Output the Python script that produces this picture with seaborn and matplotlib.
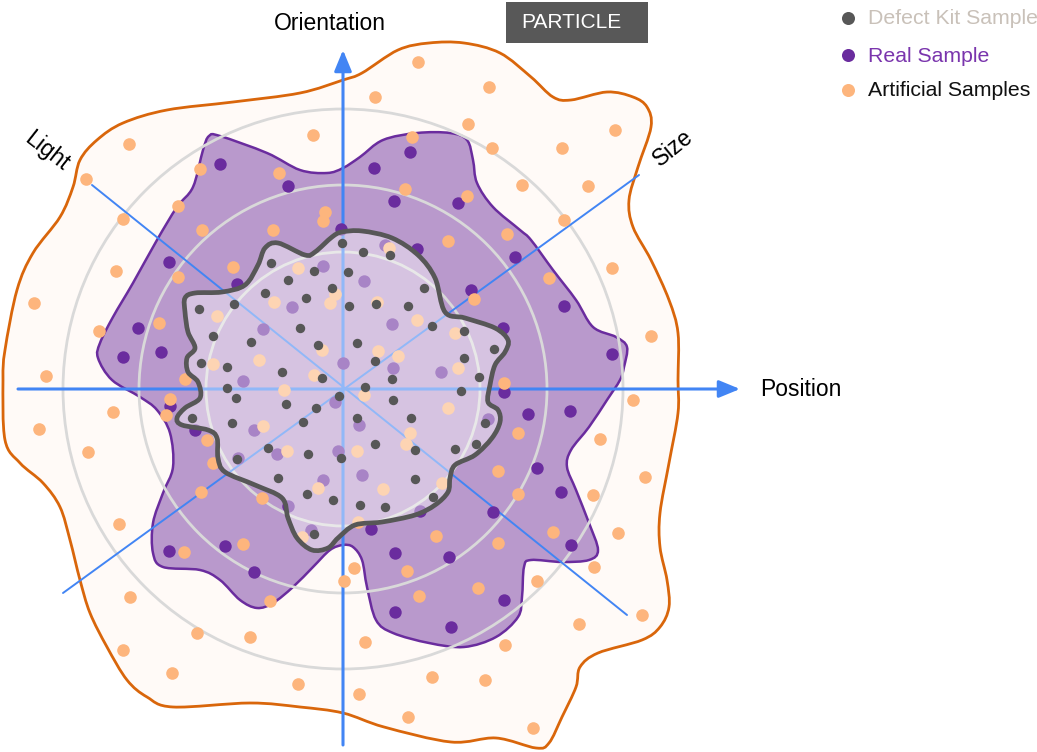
import numpy as np
import pandas as pd
import matplotlib
matplotlib.use("Agg")
import matplotlib.pyplot as plt
from matplotlib.path import Path
from matplotlib.patches import PathPatch, Circle, Rectangle
import seaborn as sns

# ---------------- data (pixel space) ----------------
center = (343, 389)
ring_radii = [137, 204, 280]

# outer (artificial samples) envelope
outer_x = [343, 362, 398, 429, 464, 500, 531, 553, 571, 607, 633, 647, 651, 638, 629, 633, 651, 669, 678, 678,
           678, 669, 660, 660, 667, 669, 660, 642, 598, 580, 576, 562, 549, 536, 496, 451, 384, 343, 300, 250,
           173, 147, 127, 107, 90, 80, 70, 60, 43, 20, 5, 3, 5, 17, 33, 60, 73, 80, 97, 123, 167, 233, 300]
outer_y = [80, 73, 50, 43, 43, 53, 77, 97, 100, 92, 97, 107, 127, 167, 200, 227, 260, 300, 333, 380,
           413, 463, 513, 547, 580, 607, 627, 640, 653, 667, 687, 717, 743, 748, 738, 742, 727, 713, 707, 703,
           707, 697, 680, 647, 613, 580, 540, 507, 483, 463, 440, 380, 350, 290, 253, 217, 187, 160, 140, 123, 110, 102, 93]

# real sample envelope
real_x = [343, 360, 383, 417, 450, 467, 473, 477, 493, 520, 531, 553, 576, 593, 616, 627, 624, 620, 607, 589,
          571, 567, 576, 589, 598, 589, 562, 531, 524, 522, 518, 496, 464, 429, 393, 376, 367, 362, 353, 343,
          330, 313, 293, 273, 257, 240, 220, 200, 163, 153, 153, 163, 173, 170, 157, 140, 112, 98, 100, 113,
          133, 157, 177, 193, 203, 209, 220, 267, 300, 327]
real_y = [168, 157, 140, 133, 133, 140, 160, 183, 207, 230, 240, 270, 300, 327, 337, 347, 367, 380, 400, 427,
          450, 467, 490, 523, 550, 560, 562, 560, 567, 597, 617, 637, 647, 643, 633, 620, 587, 560, 547, 545,
          550, 567, 587, 603, 608, 600, 580, 570, 567, 553, 523, 493, 467, 433, 410, 397, 380, 358, 343, 317,
          283, 240, 207, 187, 150, 136, 136, 153, 170, 173]

# defect kit envelope
kit_x = [342, 362, 392, 418, 435, 445, 465, 495, 508, 505, 495, 490, 488, 498, 500, 492, 475, 455, 450, 448,
         435, 415, 382, 355, 338, 328, 312, 297, 288, 282, 255, 225, 218, 217, 208, 182, 177, 185, 200, 198,
         188, 187, 195, 188, 185, 185, 195, 222, 245, 258, 265, 278, 305, 315, 332]
kit_y = [232, 231, 238, 255, 278, 312, 318, 328, 340, 352, 365, 385, 402, 410, 422, 438, 455, 465, 478, 492,
         505, 515, 522, 525, 538, 548, 550, 538, 518, 498, 485, 472, 458, 438, 430, 425, 418, 408, 398, 382,
         372, 358, 348, 332, 312, 298, 293, 292, 285, 265, 248, 243, 255, 252, 237]

defect_x = [342, 363, 390, 271, 314, 348, 288, 332, 424, 265, 306, 349, 376, 408, 199, 234, 300, 432, 464, 213,
            251, 318, 357, 494, 375, 464, 201, 227, 282, 322, 392, 479, 227, 365, 461, 236, 339, 393, 286, 316,
            192, 232, 303, 357, 411, 485, 268, 375, 415, 455, 476, 237, 308, 341, 278, 415, 307, 333, 360, 385,
            433, 314]
defect_y = [243, 252, 255, 263, 271, 272, 280, 288, 288, 293, 298, 306, 304, 306, 309, 304, 328, 326, 331, 336,
            342, 345, 343, 349, 361, 358, 363, 367, 372, 378, 379, 377, 388, 387, 391, 398, 396, 400, 404, 408,
            418, 423, 422, 418, 418, 423, 448, 444, 450, 449, 444, 459, 454, 458, 478, 479, 494, 500, 505, 507,
            497, 534]

real_pts_x = [220, 288, 374, 410, 394, 458, 417, 515, 341, 169, 237, 471, 138, 161, 123, 503, 564, 612, 504, 170,
              195, 169, 225, 254, 371, 395, 449, 493, 395, 451, 504, 528, 570, 537, 561, 571,
              323, 364, 292, 263, 392, 343, 393, 441, 243, 335, 359, 254, 488, 277, 338, 238, 362, 323, 420,
              288, 311, 385]
real_pts_y = [164, 186, 168, 152, 201, 203, 249, 257, 229, 262, 284, 290, 328, 352, 357, 328, 306, 354, 392, 406,
              430, 551, 546, 572, 529, 553, 557, 512, 612, 627, 600, 414, 411, 468, 492, 545,
              266, 281, 307, 329, 324, 363, 368, 372, 381, 402, 425, 430, 419, 454, 451, 458, 475, 480, 511,
              506, 530, 245]

art_x = [418, 489, 375, 468, 412, 492, 313, 129, 86, 200, 279, 405, 467, 522, 562, 615, 588, 178, 123, 325,
         323, 202, 273, 507, 448, 564, 116, 233, 178, 549, 612, 34, 159, 99, 474, 651, 46, 185,
         170, 166, 113, 39, 88, 207, 213, 201, 262, 119, 184, 243, 130, 270, 354, 344, 436, 498, 407, 419,
         478, 498, 518, 518, 197, 250, 123, 365, 505, 172, 298, 359, 432, 485, 408, 504, 633, 600, 645, 593,
         618, 553, 594, 537, 642, 579, 533,
         389, 298, 335, 330, 274, 377, 217, 417, 455, 322, 378, 398, 213, 259, 458, 314, 284, 364, 448, 263,
         410, 406, 287, 357, 318, 383, 442, 358, 302]
art_y = [62, 87, 97, 124, 137, 148, 135, 144, 179, 169, 173, 189, 196, 185, 148, 130, 186, 206, 219, 212,
         221, 230, 230, 234, 241, 220, 271, 267, 277, 278, 268, 303, 323, 331, 299, 336, 376, 379,
         399, 415, 412, 429, 452, 440, 463, 492, 498, 524, 552, 544, 597, 601, 568, 581, 536, 543, 571, 596,
         588, 471, 433, 494, 633, 637, 650, 642, 645, 673, 684, 694, 677, 680, 717, 383, 400, 439, 477, 495,
         533, 532, 567, 581, 615, 624, 728,
         248, 268, 294, 303, 302, 302, 316, 320, 333, 350, 351, 356, 364, 360, 368, 375, 390, 395, 408, 426,
         433, 444, 451, 451, 488, 489, 483, 522, 537]

axis_names = ["Orientation", "Position", "Light", "Size"]
legend_labels = ["Defect Kit Sample", "Real Sample", "Artificial Samples"]
legend_marker_colors = ["#575757", "#6a2c9e", "#fdb57d"]
legend_text_colors = ["#c9c1b9", "#7a35ad", "#111111"]
badge_text = "PARTICLE"

# ---------------- styling ----------------
BLUE = "#4285f4"
ORANGE = "#fdb57d"
PURPLE = "#6a2c9e"
DARK = "#575757"

sns.set_theme(style="white")
plt.rcParams["font.family"] = ["Liberation Sans", "DejaVu Sans"]


def smooth_closed(xs, ys):
    pts = np.column_stack([xs, ys]).astype(float)
    n = len(pts)
    verts = [pts[0]]
    codes = [Path.MOVETO]
    for i in range(n):
        p0 = pts[(i - 1) % n]
        p1 = pts[i]
        p2 = pts[(i + 1) % n]
        p3 = pts[(i + 2) % n]
        verts += [p1 + (p2 - p0) / 6.0, p2 - (p3 - p1) / 6.0, p2]
        codes += [Path.CURVE4] * 3
    verts.append(pts[0])
    codes.append(Path.CLOSEPOLY)
    return Path(verts, codes)


fig = plt.figure(figsize=(10.37, 7.52), dpi=100)
ax = fig.add_axes([0, 0, 1, 1])
ax.set_xlim(0, 1037)
ax.set_ylim(752, 0)
ax.axis("off")

# envelopes
ax.add_patch(PathPatch(smooth_closed(outer_x, outer_y), facecolor="#fffaf7",
                       edgecolor="#d9660b", lw=2.0, zorder=1))
ax.add_patch(PathPatch(smooth_closed(real_x, real_y), facecolor="#b999cc",
                       edgecolor=PURPLE, lw=1.8, zorder=2))

# rings
for r in ring_radii:
    ax.add_patch(Circle(center, r, facecolor="none", edgecolor="#d9d9d9", lw=2.0, zorder=3))

# axes lines
cx, cy = center
ax.annotate("", xy=(740, cy), xytext=(18, cy), zorder=4,
            arrowprops=dict(arrowstyle="-|>,head_length=0.85,head_width=0.35", lw=2.2,
                            color=BLUE, shrinkA=0, shrinkB=0, mutation_scale=15))
ax.annotate("", xy=(cx, 50), xytext=(cx, 745), zorder=4,
            arrowprops=dict(arrowstyle="-|>,head_length=0.85,head_width=0.35", lw=2.2,
                            color=BLUE, shrinkA=0, shrinkB=0, mutation_scale=15))
ax.plot([92, 627], [185, 615], color=BLUE, lw=1.4, zorder=4)
ax.plot([63, 639], [593, 175], color=BLUE, lw=1.4, zorder=4)

# sample points
real_df = pd.DataFrame({"x": real_pts_x, "y": real_pts_y})
art_df = pd.DataFrame({"x": art_x, "y": art_y})
def_df = pd.DataFrame({"x": defect_x, "y": defect_y})
sns.scatterplot(data=real_df, x="x", y="y", ax=ax, color=PURPLE, s=80, linewidth=0, zorder=5, legend=False)
sns.scatterplot(data=art_df, x="x", y="y", ax=ax, color=ORANGE, s=82, linewidth=0, zorder=6, legend=False)

# defect kit veil + outline
ax.add_patch(PathPatch(smooth_closed(kit_x, kit_y), facecolor="white", alpha=0.42,
                       edgecolor="none", zorder=7))
ax.add_patch(PathPatch(smooth_closed(kit_x, kit_y), facecolor="none",
                       edgecolor=DARK, lw=3.4, zorder=8))
sns.scatterplot(data=def_df, x="x", y="y", ax=ax, color=DARK, s=46, linewidth=0, zorder=9, legend=False)

ax.set_xlim(0, 1037)
ax.set_ylim(752, 0)
ax.axis("off")

# axis labels
ax.text(330, 23, axis_names[0], fontsize=16.5, ha="center", va="center", color="black")
ax.text(760, 390, axis_names[1], fontsize=16.5, ha="left", va="center", color="black")
ax.text(47, 151, axis_names[2], fontsize=16.5, ha="center", va="center", rotation=-38,
        rotation_mode="anchor", color="black")
ax.text(673, 148, axis_names[3], fontsize=16.5, ha="center", va="center", rotation=39,
        rotation_mode="anchor", color="black")

# badge
ax.add_patch(Rectangle((506, 2), 142, 41, facecolor="#585858", edgecolor="none", zorder=10))
ax.text(571, 23, badge_text, fontsize=15, color="white", ha="center", va="center", zorder=11)

# legend
leg_y = [18, 55, 90]
for lab, mc, tc, yy in zip(legend_labels, legend_marker_colors, legend_text_colors, leg_y):
    ax.scatter([848], [yy], s=88, color=mc, linewidth=0, zorder=10, clip_on=False)
    ax.text(868, yy + 1, lab, fontsize=15.3, color=tc, ha="left", va="center", zorder=10)

fig.savefig("out.png", dpi=100)
